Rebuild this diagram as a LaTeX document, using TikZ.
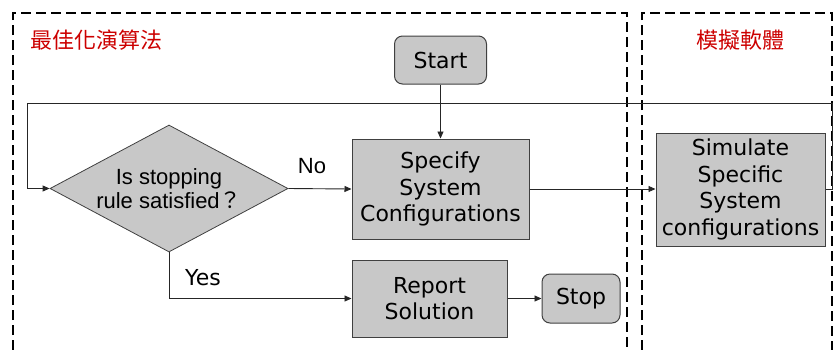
\documentclass[tikz,border=0pt]{standalone}
\usepackage{fontspec}
\setmainfont{DejaVu Sans}
\newfontfamily\arialf{Liberation Sans}
\newfontfamily\cjk{Noto Sans CJK TC}
\usetikzlibrary{shapes.geometric,arrows.meta}
\definecolor{boxfill}{RGB}{200,200,200}
\definecolor{boxdraw}{RGB}{64,64,64}
\definecolor{labred}{RGB}{204,0,0}
\begin{document}
\begin{tikzpicture}[x=1pt,y=-1pt,
  stepbox/.style={draw=boxdraw,fill=boxfill,line width=1pt,inner sep=0pt,align=center,
    font=\fontsize{22}{26.6}\selectfont},
  termbox/.style={stepbox,rounded corners=8pt},
  decbox/.style={draw=boxdraw,fill=boxfill,line width=0.8pt,diamond,aspect=1.874,inner sep=0pt,
    minimum width=238pt,minimum height=127pt,align=center,font=\arialf\fontsize{22}{24.5}\selectfont},
  conn/.style={draw=black!85,line width=0.9pt,-{Triangle[length=7pt,width=6pt]}},
  region/.style={draw=black,line width=2.4pt,dash pattern=on 10pt off 5pt},
  regionlabel/.style={text=labred,font=\cjk\fontsize{22}{24}\selectfont,inner sep=0pt},
  edgelabel/.style={inner sep=0pt,font=\arialf\fontsize{22}{24}\selectfont}]
\useasboundingbox (0,0) rectangle (834,349);
\clip (0,0) rectangle (834,349);
% regions
\draw[region] (13,380) -- (13,13) -- (627,13) -- (627,380);
\draw[region] (642,380) -- (642,13) -- (832,13) -- (832,380);
\node[regionlabel] (optlab) at (96,40) {最佳化演算法};
\node[regionlabel] (simlab) at (740,40) {模擬軟體};
% nodes
\node[termbox,minimum width=92pt,minimum height=48pt] (start) at (440.5,60) {Start};
\node[stepbox,minimum width=177pt,minimum height=100pt] (spec) at (440.5,189) {Specify\\System\\Configurations};
\node[decbox] (dec) at (169,188.5) {Is stopping\\rule satisfied{\cjk ？}};
\node[stepbox,minimum width=169pt,minimum height=113pt] (sim) at (740.5,189.5) {Simulate\\Specific\\System\\configurations};
\node[stepbox,minimum width=155pt,minimum height=77pt] (rep) at (429.5,298.5) {Report\\Solution};
\node[termbox,minimum width=78pt,minimum height=49pt] (stop) at (581,298.5) {Stop};
% labels
\node[edgelabel] (nolab) at (312,166) {No};
\node[edgelabel,font=\fontsize{22}{24}\selectfont] (yeslab) at (203,278) {Yes};
% connectors
\coordinate (fbR) at (832,103);
\coordinate (fbL) at (27,103);
\draw[conn] (start.south) -- (spec.north);
\draw[conn] (dec.east) -- (spec.west);
\draw[conn] (spec.east) -- (sim.west |- spec.east);
\draw[conn] (sim.east) -| (fbR) -- (fbL) |- (dec.west);
\draw[conn] (dec.south) |- (rep.west);
\draw[conn] (rep.east) -- (stop.west);
\end{tikzpicture}
\end{document}
